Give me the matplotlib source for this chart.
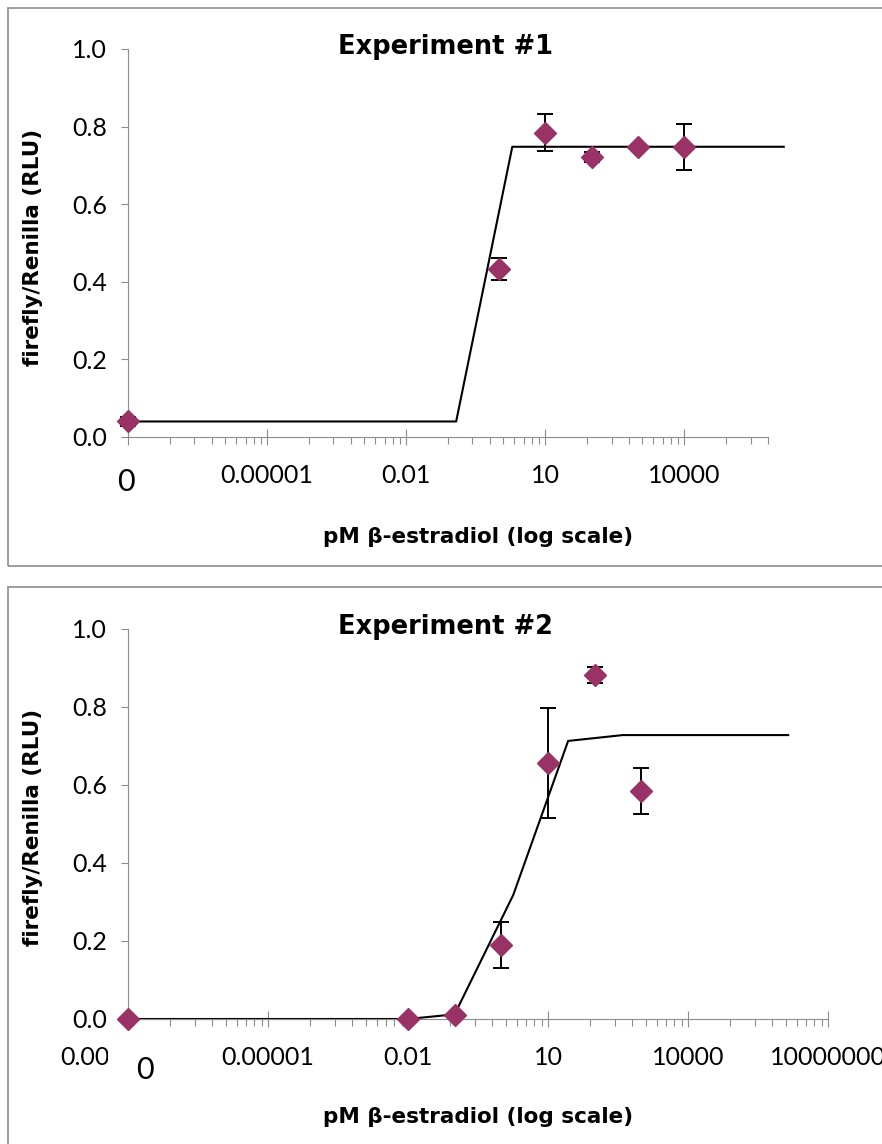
import matplotlib
matplotlib.use('Agg')
import matplotlib.pyplot as plt
from matplotlib.patches import Rectangle
import numpy as np

# experiment 1
conc1 = [1e-8, 1, 10, 100, 1000, 10000]
resp1 = [0.04, 0.433, 0.784, 0.722, 0.747, 0.747]
err1 = [0.012, 0.028, 0.048, 0.012, 0.005, 0.059]
fit1_x = [1e-8, 0.12, 1.95, 1e5, 1.4e6]
fit1_y = [0.04, 0.04, 0.748, 0.748, 0.748]

# experiment 2
conc2 = [1e-8, 0.01, 0.1, 1, 10, 100, 1000]
resp2 = [0.0, 0.0, 0.01, 0.19, 0.656, 0.882, 0.585]
err2 = [0.0, 0.0, 0.0, 0.059, 0.141, 0.02, 0.059]
fit2_x = [1e-8, 0.01, 0.1, 1.8, 27, 400, 1e5, 1.4e6]
fit2_y = [0.0, 0.0, 0.012, 0.318, 0.713, 0.728, 0.728, 0.728]

yticks = [0.0, 0.2, 0.4, 0.6, 0.8, 1.0]
ticks1 = [1e-8, 1e-5, 1e-2, 1e1, 1e4]
labels1 = ['', '0.00001', '0.01', '10', '10000']
ticks2 = [1e-8, 1e-5, 1e-2, 1e1, 1e4, 1e7]
labels2 = ['0.00000001', '0.00001', '0.01', '10', '10000', '10000000']

W, H = 882, 1144
plt.rcParams['font.family'] = ['Lato', 'DejaVu Sans']
fig = plt.figure(figsize=(W / 100, H / 100), dpi=100)

axis_col = '#8c8c8c'
purple = '#993366'


def fx(px):
    return px / W


def fy(py):
    return 1 - py / H


def panel(rect, conc, resp, err, fx_, fy_, ticks, labels, xmax):
    ax = fig.add_axes(rect)
    ax.set_xscale('log')
    ax.set_xlim(1e-8, xmax)
    ax.set_ylim(0, 1)
    ax.plot(fx_, fy_, color='black', lw=1.5, clip_on=False, zorder=2)
    ax.errorbar(conc, resp, yerr=err, fmt='none', ecolor='black', elinewidth=1.4,
                capsize=5.5, capthick=1.4, clip_on=False, zorder=3)
    ax.plot(conc, resp, 'D', color=purple, ms=11.5, mec=purple, ls='none',
            clip_on=False, zorder=4)
    # excel style base-1000 log axis: minor ticks at m^3 inside each 3 decades
    minors = []
    for b in ticks:
        for m in range(2, 10):
            v = b * m ** 3
            if v <= xmax * 1.0001:
                minors.append(v)
    ax.set_xticks(ticks)
    ax.set_xticklabels(labels)
    ax.set_xticks(minors, minor=True)
    ax.set_xticklabels([], minor=True)
    ax.set_yticks(yticks)
    ax.set_yticklabels(['%.1f' % v for v in yticks])
    ax.tick_params(axis='x', which='major', direction='inout', length=11.5, width=0.8,
                   color=axis_col, labelsize=18, pad=14)
    ax.tick_params(axis='x', which='minor', direction='out', length=5, width=0.8,
                   color=axis_col)
    ax.tick_params(axis='y', direction='out', length=5, width=0.8, color=axis_col,
                   labelsize=18, pad=10)
    for s in ['top', 'right']:
        ax.spines[s].set_visible(False)
    for s in ['left', 'bottom']:
        ax.spines[s].set_color(axis_col)
        ax.spines[s].set_linewidth(0.8)
    return ax


ax1 = panel([fx(128), fy(437), fx(768) - fx(128), 388 / H], conc1, resp1, err1,
            fit1_x, fit1_y, ticks1, labels1, 6.4e5)
ax2 = panel([fx(128), fy(1019), fx(828) - fx(128), 390 / H], conc2, resp2, err2,
            fit2_x, fit2_y, ticks2, labels2, 1e7)

# panel borders
fig.patches.append(Rectangle((fx(8), fy(566)), 1.2, fy(8) - fy(566), transform=fig.transFigure,
                             fill=False, ec='#8c8c8c', lw=1.2, zorder=1))
fig.patches.append(Rectangle((fx(8), fy(1160)), 1.2, fy(587) - fy(1160), transform=fig.transFigure,
                             fill=False, ec='#8c8c8c', lw=1.2, zorder=1))

# titles and axis labels
for y0, title in [(0, 'Experiment #1'), (580, 'Experiment #2')]:
    fig.text(fx(445), fy(47 + y0), title, ha='center', va='center', fontsize=18.5,
             fontweight='bold', family='DejaVu Sans')
    fig.text(fx(33), fy(247 + y0), 'firefly/Renilla (RLU)', rotation=90, ha='center',
             va='center', fontsize=15.5, fontweight='bold', family='DejaVu Sans')
    fig.text(fx(478), fy(537 + y0), 'pM β-estradiol (log scale)', ha='center', va='center',
             fontsize=15.5, fontweight='bold', family='DejaVu Sans')

# the "0" text boxes placed over the first tick label
fig.text(fx(126), fy(482), '0', ha='center', va='center', fontsize=22, zorder=6)
fig.patches.append(Rectangle((fx(108), fy(1097)), fx(198) - fx(108), fy(1043) - fy(1097),
                             transform=fig.transFigure, fc='white', ec='none', zorder=5))
fig.text(fx(145), fy(1070), '0', ha='center', va='center', fontsize=22, zorder=6)

fig.savefig('out.png', dpi=100)
